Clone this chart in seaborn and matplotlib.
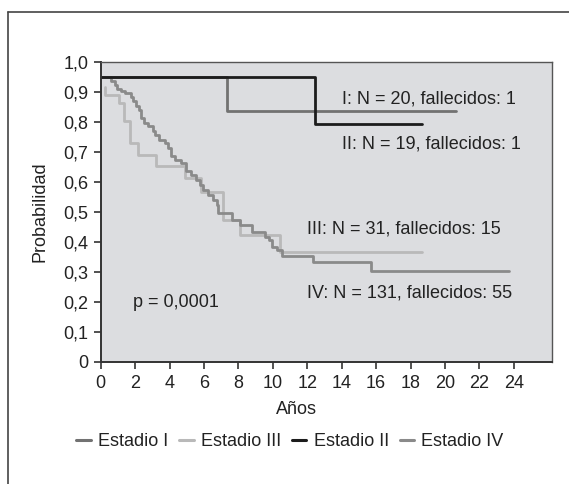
import numpy as np
import pandas as pd
import matplotlib
matplotlib.use("Agg")
import matplotlib.pyplot as plt
from matplotlib.lines import Line2D
import seaborn as sns

# ---- data ----
stages = ["Estadio I", "Estadio III", "Estadio II", "Estadio IV"]

t_I = [0.0, 7.33, 20.66]
s_I = [0.95, 0.837, 0.837]

t_II = [0.0, 12.46, 18.66]
s_II = [0.95, 0.793, 0.793]

t_III = [0.27, 0.27, 1.05, 1.35, 1.72, 2.17, 3.23, 4.87, 5.85, 7.13, 8.10, 10.42, 18.66]
s_III = [0.917, 0.891, 0.863, 0.802, 0.730, 0.691, 0.652, 0.614, 0.568, 0.473, 0.423, 0.368, 0.368]

t_IV = [0.0, 0.58, 0.81, 0.97, 1.16, 1.39, 1.74, 1.88, 2.07, 2.21, 2.36, 2.52, 2.75,
        3.04, 3.18, 3.39, 3.72, 3.91, 4.07, 4.30, 4.69, 4.98, 5.27, 5.56, 5.77,
        5.97, 6.26, 6.55, 6.74, 6.84, 7.60, 8.10, 8.78, 9.55, 9.75, 9.94, 10.23,
        10.52, 12.36, 15.70, 23.70]
s_IV = [0.95, 0.938, 0.924, 0.911, 0.902, 0.897, 0.882, 0.869, 0.852, 0.841, 0.813,
        0.797, 0.786, 0.769, 0.758, 0.741, 0.730, 0.713, 0.686, 0.675, 0.663, 0.636,
        0.624, 0.607, 0.590, 0.573, 0.557, 0.540, 0.523, 0.496, 0.475, 0.457, 0.434,
        0.418, 0.407, 0.384, 0.373, 0.353, 0.334, 0.303, 0.303]

annotations = [
    ("I: N = 20, fallecidos: 1", 14.03, 0.877),
    ("II: N = 19, fallecidos: 1", 14.03, 0.727),
    ("III: N = 31, fallecidos: 15", 12.0, 0.443),
    ("IV: N = 131, fallecidos: 55", 12.0, 0.230),
    ("p = 0,0001", 1.88, 0.197),
]

x_ticks = list(range(0, 25, 2))
y_ticks = [round(0.1 * i, 1) for i in range(11)]
y_ticklabels = ["0", "0,1", "0,2", "0,3", "0,4", "0,5", "0,6", "0,7", "0,8", "0,9", "1,0"]

colors = {"Estadio I": "#727272", "Estadio III": "#b9b9b9",
          "Estadio II": "#1c1c1c", "Estadio IV": "#8a8a8a"}

# ---- build table ----
frames = []
for name, t, s in [("Estadio I", t_I, s_I), ("Estadio II", t_II, s_II),
                   ("Estadio III", t_III, s_III), ("Estadio IV", t_IV, s_IV)]:
    frames.append(pd.DataFrame({"t": t, "s": s, "stage": name, "ord": range(len(t))}))
df = pd.concat(frames, ignore_index=True)

sns.set_theme(style="white")
plt.rcParams["font.family"] = ["Liberation Sans", "DejaVu Sans"]
FS = 13

fig = plt.figure(figsize=(5.69, 4.84), dpi=100)
ax = fig.add_axes([100.7 / 569, 1 - 362 / 484, 451 / 569, 300 / 484])
ax.set_facecolor("#dcdde0")

draw_order = ["Estadio III", "Estadio IV", "Estadio I", "Estadio II"]
for st in draw_order:
    sub = df[df["stage"] == st]
    sns.lineplot(data=sub, x="t", y="s", color=colors[st], drawstyle="steps-post",
                 estimator=None, sort=False, lw=2.0, ax=ax, legend=False)

ax.set_xlim(0, 26.2)
ax.set_ylim(0, 1.0)
ax.set_xticks(x_ticks)
ax.set_xticklabels([str(v) for v in x_ticks], fontsize=FS, color="#222222")
ax.set_yticks(y_ticks)
ax.set_yticklabels(y_ticklabels, fontsize=FS, color="#222222")
ax.tick_params(axis="both", direction="out", length=5, width=1.2, color="#333333",
               bottom=True, left=True, pad=4)

for side in ["left", "bottom"]:
    ax.spines[side].set_color("#333333")
    ax.spines[side].set_linewidth(1.4)
for side in ["top", "right"]:
    ax.spines[side].set_color("#555555")
    ax.spines[side].set_linewidth(1.0)

ax.set_xlabel("Años", fontsize=FS, color="#222222")
ax.xaxis.label.set_va("center")
ax.xaxis.set_label_coords(0.435, -0.16)
ax.set_ylabel("Probabilidad", fontsize=FS, color="#222222")
ax.yaxis.label.set_va("center")
ax.yaxis.set_label_coords(-0.135, 0.5)

for txt, x, y in annotations:
    ax.text(x, y, txt, fontsize=FS, color="#222222", ha="left", va="center")

handles = [Line2D([0], [0], color=colors[s], lw=2.2) for s in stages]
fig.legend(handles, stages, loc="center", bbox_to_anchor=(290 / 569, 1 - 442 / 484),
           ncol=4, frameon=False, fontsize=FS, handlelength=0.8, handletextpad=0.4,
           columnspacing=0.6, labelcolor="#222222")

# outer frame (left and top)
fig.add_artist(Line2D([8.3 / 569, 8.3 / 569], [0, 1 - 12 / 484], color="#444444",
                      lw=1.2, transform=fig.transFigure))
fig.add_artist(Line2D([8.3 / 569, 1], [1 - 12 / 484, 1 - 12 / 484], color="#444444",
                      lw=1.2, transform=fig.transFigure))

fig.savefig("out.png", dpi=100, facecolor="white")
